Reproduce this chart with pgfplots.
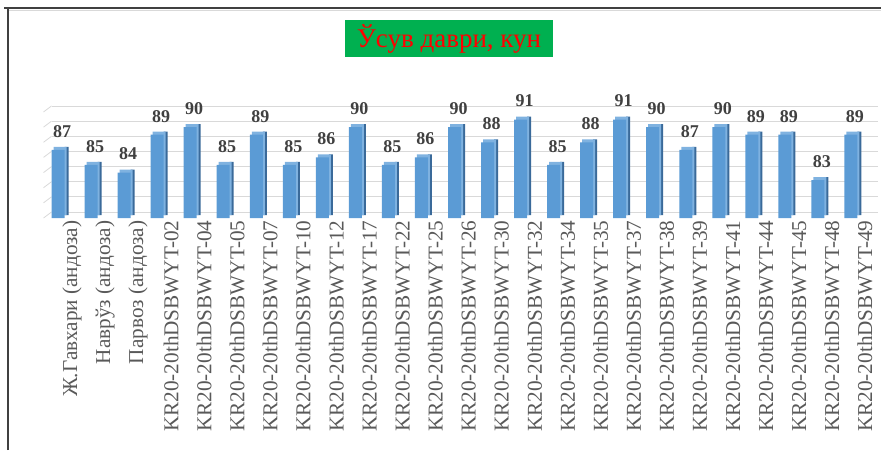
\documentclass[border=0pt]{standalone}
\usepackage{fontspec}
\setmainfont{Liberation Serif}
\usepackage{pgfplots}
\pgfplotsset{compat=1.18}
\definecolor{barfront}{HTML}{5B9BD5}
\definecolor{barside}{HTML}{3A6A9A}
\definecolor{bartop}{HTML}{7FB2E0}
\definecolor{labgray}{HTML}{595959}
\definecolor{valgray}{HTML}{404040}
\definecolor{titlegreen}{HTML}{00B050}
\definecolor{gridgray}{HTML}{D9D9D9}
\definecolor{framegray}{HTML}{404040}

\pgfplotstableread{
x  v
0  87
1  85
2  84
3  89
4  90
5  85
6  89
7  85
8  86
9  90
10 85
11 86
12 90
13 88
14 91
15 85
16 88
17 91
18 90
19 87
20 90
21 89
22 89
23 83
24 89
}\growdays

\begin{document}
\begin{tikzpicture}[x=1pt,y=1pt]
\path[use as bounding box] (0,0) rectangle (881,450);
% frame
\draw[framegray, line width=2pt] (4,442) -- (881,442);
\draw[gridgray, line width=0.8pt] (9,440) -- (881,440);
\draw[framegray, line width=2pt] (8,0) -- (8,443);
% title
\node[fill=titlegreen, text=red, font=\fontsize{27}{29}\selectfont,
      minimum width=208pt, minimum height=37pt, inner sep=0pt]
      at (449,411.5) {Ўсув даври, кун};
\begin{axis}[
  at={(43.5pt,232pt)}, anchor=south west,
  scale only axis, width=826pt, height=106pt,
  xmin=-0.5, xmax=24.5, ymin=78, ymax=92,
  ytick={78,80,...,92}, yticklabels={},
  xtick={0,...,24},
  xticklabels={Ж.Гавхари (андоза), Наврўз (андоза), Парвоз (андоза),
    KR20-20thDSBWYT-02, KR20-20thDSBWYT-04, KR20-20thDSBWYT-05,
    KR20-20thDSBWYT-07, KR20-20thDSBWYT-10, KR20-20thDSBWYT-12,
    KR20-20thDSBWYT-17, KR20-20thDSBWYT-22, KR20-20thDSBWYT-25,
    KR20-20thDSBWYT-26, KR20-20thDSBWYT-30, KR20-20thDSBWYT-32,
    KR20-20thDSBWYT-34, KR20-20thDSBWYT-35, KR20-20thDSBWYT-37,
    KR20-20thDSBWYT-38, KR20-20thDSBWYT-39, KR20-20thDSBWYT-41,
    KR20-20thDSBWYT-44, KR20-20thDSBWYT-45, KR20-20thDSBWYT-48,
    KR20-20thDSBWYT-49},
  x tick label style={rotate=90, anchor=east, text=labgray,
    font=\fontsize{21.2}{23}\selectfont, xshift=1pt, yshift=-12pt},
  axis line style={draw=none},
  major tick style={draw=none},
  ymajorgrids,
  major grid style={gridgray, line width=0.8pt, xshift=8pt, yshift=6pt},
  clip=false,
  /pgf/number format/assume math mode=true,
]
% grid stubs running from the floor edge back to the wall
\pgfplotsinvokeforeach{78,80,...,92}{
  \draw[gridgray, line width=0.8pt] (axis cs:-0.5,#1) -- ++(8pt,6pt);
}
% side faces, raised by the depth of the bar
\addplot[ybar, bar width=4pt, bar shift=6.5pt, fill=barside, draw=none,
  yshift=3pt]
  table[x=x, y=v] {\growdays};
% top faces, same depth
\addplot[ybar, bar width=13pt, bar shift=0pt, fill=bartop, draw=none,
  yshift=3pt]
  table[x=x, y=v] {\growdays};
% front faces with value labels
\addplot[ybar, bar width=13pt, bar shift=-2pt, fill=barfront, draw=none,
  nodes near coords,
  every node near coord/.append style={font=\bfseries\fontsize{18}{20}\selectfont,
    text=valgray, xshift=2pt, yshift=9pt}]
  table[x=x, y=v] {\growdays};
\end{axis}
\end{tikzpicture}
\end{document}
